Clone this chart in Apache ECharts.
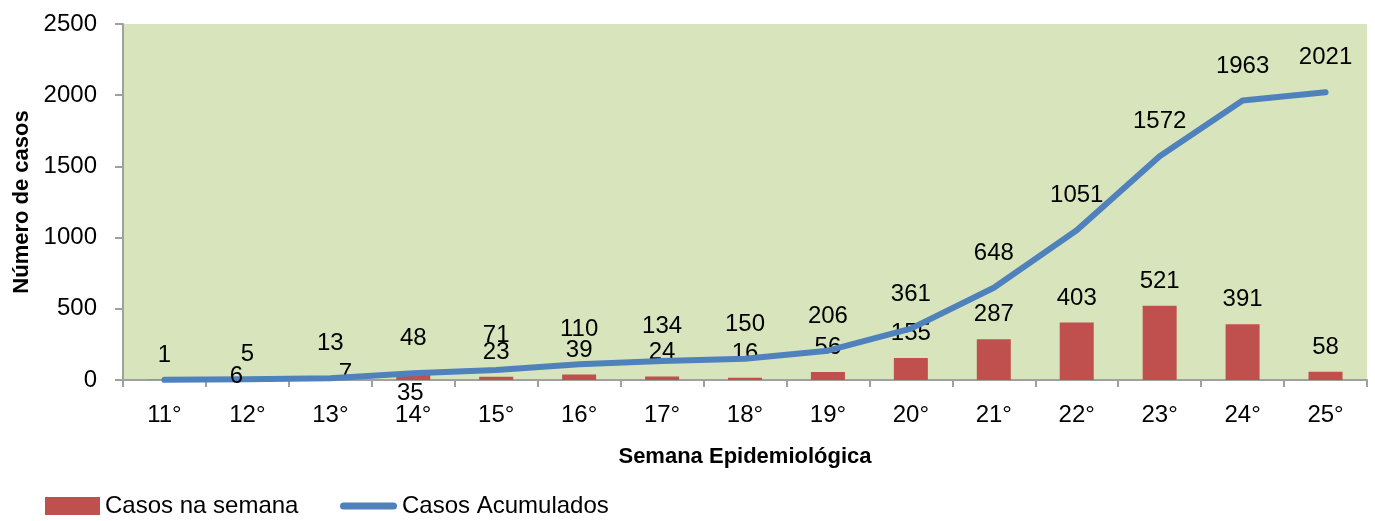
<!DOCTYPE html>
<html>
<head>
<meta charset="utf-8">
<script src="https://cdn.jsdelivr.net/npm/echarts@6/dist/echarts.min.js"></script>
<style>
html,body{margin:0;padding:0;background:#fff;}
#chart{width:1375px;height:521px;}
</style>
</head>
<body>
<div id="chart"></div>
<script>
const categories = ['11°','12°','13°','14°','15°','16°','17°','18°','19°','20°','21°','22°','23°','24°','25°'];
const casosSemana = [1, 5, 7, 35, 23, 39, 24, 16, 56, 155, 287, 403, 521, 391, 58];
const casosAcumulados = [1, 6, 13, 48, 71, 110, 134, 150, 206, 361, 648, 1051, 1572, 1963, 2021];
const yTicks = [0, 500, 1000, 1500, 2000, 2500];

const FONT = 'Liberation Sans';
const FS = 24;

// label placement tweaks (layout only)
const barLabelOffsets = { 2: [15, 18.5], 3: [-3, 42.5] };
const lineLabelOffsets = { 1: [-11, 31.5] };
const lineLabelHidden = { 0: true };

const barData = casosSemana.map((v, i) => {
  const item = { value: v };
  if (barLabelOffsets[i]) item.label = { offset: barLabelOffsets[i] };
  return item;
});
const lineData = casosAcumulados.map((v, i) => {
  const item = { value: v };
  if (lineLabelOffsets[i]) item.label = { offset: lineLabelOffsets[i] };
  if (lineLabelHidden[i]) item.label = { show: false };
  return item;
});

const chart = echarts.init(document.getElementById('chart'), null, { renderer: 'canvas' });
chart.setOption({
  animation: false,
  textStyle: { fontFamily: FONT },
  grid: {
    left: 123, right: 8, top: 24, bottom: 141,
    show: true, backgroundColor: '#d8e4bc', borderWidth: 0
  },
  legend: [
    {
      left: 45, top: 494, padding: 0, itemWidth: 55, itemHeight: 18,
      textStyle: { fontSize: FS, color: '#000', fontFamily: FONT },
      data: [{ name: 'Casos na semana', icon: 'rect' }]
    },
    {
      left: 340, top: 494, padding: 0, itemWidth: 57, itemHeight: 7,
      textStyle: { fontSize: FS, color: '#000', fontFamily: FONT },
      data: [{ name: 'Casos Acumulados', icon: 'path://M3.5,0 L53.5,0 A3.5,3.5 0 0 1 53.5,7 L3.5,7 A3.5,3.5 0 0 1 3.5,0 Z' }]
    }
  ],
  xAxis: {
    type: 'category',
    data: categories,
    boundaryGap: true,
    name: 'Semana Epidemiológica',
    nameLocation: 'middle',
    nameGap: 66,
    nameTextStyle: { fontSize: 22, fontWeight: 'bold', color: '#000', fontFamily: FONT },
    axisLine: { show: true, lineStyle: { color: '#a0a0a0', width: 2 } },
    axisTick: { show: true, length: 7, interval: 0, lineStyle: { color: '#a0a0a0', width: 2 } },
    axisLabel: { fontSize: FS, color: '#000', margin: 23, interval: 0, fontFamily: FONT },
    splitLine: { show: false }
  },
  yAxis: {
    type: 'value',
    min: yTicks[0],
    max: yTicks[yTicks.length - 1],
    interval: yTicks[1] - yTicks[0],
    name: 'Número de casos',
    nameLocation: 'middle',
    nameRotate: 90,
    nameGap: 88,
    nameTextStyle: { fontSize: 22, fontWeight: 'bold', color: '#000', fontFamily: FONT },
    axisLine: { show: true, lineStyle: { color: '#a0a0a0', width: 2 } },
    axisTick: { show: true, length: 8, lineStyle: { color: '#a0a0a0', width: 2 } },
    axisLabel: { fontSize: FS, color: '#000', margin: 26, fontFamily: FONT, formatter: v => String(v) },
    splitLine: { show: false }
  },
  series: [
    {
      name: 'Casos na semana',
      type: 'bar',
      data: barData,
      barWidth: 34,
      itemStyle: { color: '#c0504d' },
      label: { show: true, position: 'top', distance: 12.5, fontSize: FS, color: '#000', fontFamily: FONT }
    },
    {
      name: 'Casos Acumulados',
      type: 'line',
      data: lineData,
      symbol: 'circle',
      symbolSize: 2,
      showSymbol: true,
      itemStyle: { color: '#4f81bd' },
      lineStyle: { color: '#4f81bd', width: 6, cap: 'round', join: 'round' },
      label: { show: true, position: 'top', distance: 21.5, fontSize: FS, color: '#000', fontFamily: FONT }
    }
  ]
});
</script>
</body>
</html>
